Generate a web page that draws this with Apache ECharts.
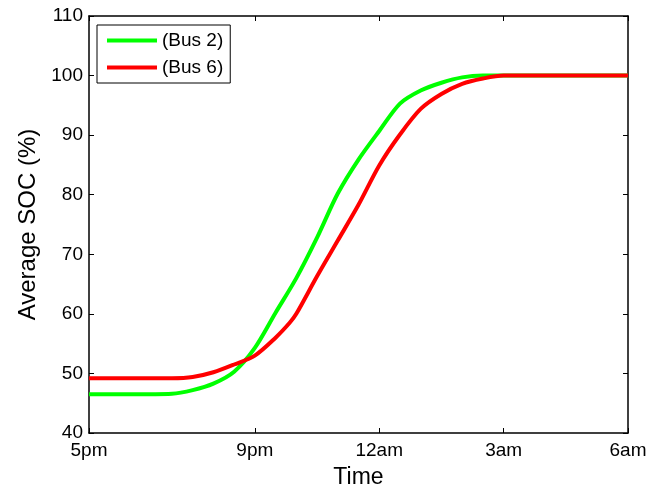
<!DOCTYPE html>
<html>
<head>
<meta charset="utf-8">
<script src="https://cdn.jsdelivr.net/npm/echarts@6/dist/echarts.min.js"></script>
<style>
  html, body { margin: 0; padding: 0; background: #fff; overflow: hidden; }
  #chart { width: 667px; height: 494px; }
</style>
</head>
<body>
<div id="chart"></div>
<script>
// Hours elapsed since 5pm, with average state of charge (%) per bus
const hoursBus2 = [0, 1, 2, 2.5, 3, 3.5, 4, 4.5, 5, 5.5, 6, 6.5, 7, 7.5, 8, 8.5, 9, 9.5, 10, 11, 12, 13];
const socBus2 = [46.5, 46.5, 46.6, 47.2, 48.3, 50.3, 54.3, 60.2, 66.0, 72.8, 80.2, 85.9, 90.7, 95.3, 97.5, 98.8, 99.7, 100, 100, 100, 100, 100];

const hoursBus6 = [0, 1, 2, 2.5, 3, 3.5, 4, 4.5, 4.84, 5, 5.5, 6, 6.5, 7, 7.5, 8, 8.5, 9, 9.5, 10, 11, 12, 13];
const socBus6 = [49.2, 49.2, 49.2, 49.4, 50.2, 51.5, 53.0, 56.0, 58.5, 60.0, 66.3, 72.3, 78.3, 84.9, 90.1, 94.4, 96.9, 98.6, 99.5, 100, 100, 100, 100];

// Time axis ticks (hours since 5pm) and their labels
const timeTicks = [0, 4, 7, 10, 13];
const timeLabels = ['5pm', '9pm', '12am', '3am', '6am'];

const seriesNames = ['(Bus 2)', '(Bus 6)'];
const seriesColors = ['#00ff00', '#ff0000'];

const toPairs = (xs, ys) => xs.map((x, i) => [x, ys[i]]);

const font = 'Liberation Sans, Arial, sans-serif';
const axisLine = { show: true, onZero: false, lineStyle: { color: '#000', width: 1.5 } };

const chart = echarts.init(document.getElementById('chart'), null, { renderer: 'canvas', width: 667, height: 494 });
chart.setOption({
  animation: false,
  backgroundColor: '#fff',
  grid: { left: 89, right: 39, top: 16, bottom: 56, containLabel: false },
  legend: {
    orient: 'vertical',
    left: 97,
    top: 25,
    data: seriesNames,
    icon: 'rect',
    itemWidth: 50,
    itemHeight: 4,
    itemGap: 8,
    padding: [6, 7, 6, 10],
    borderColor: '#000',
    borderWidth: 1,
    backgroundColor: '#fff',
    textStyle: { fontFamily: font, fontSize: 19, color: '#000' }
  },
  xAxis: [
    {
      type: 'value', min: 0, max: 13, position: 'bottom',
      axisLine,
      splitLine: { show: false },
      axisTick: { inside: true, length: 5, customValues: timeTicks, lineStyle: { color: '#000', width: 1 } },
      axisLabel: {
        customValues: timeTicks,
        formatter: v => timeLabels[timeTicks.indexOf(v)],
        fontFamily: font, fontSize: 19, color: '#000', margin: 8
      },
      name: 'Time', nameLocation: 'middle', nameGap: 33,
      nameTextStyle: { fontFamily: font, fontSize: 23, color: '#000' }
    },
    {
      type: 'value', min: 0, max: 13, position: 'top',
      axisLine,
      splitLine: { show: false },
      axisTick: { inside: true, length: 5, customValues: timeTicks, lineStyle: { color: '#000', width: 1 } },
      axisLabel: { show: false }
    }
  ],
  yAxis: [
    {
      type: 'value', min: 40, max: 110, interval: 10, position: 'left',
      axisLine,
      splitLine: { show: false },
      axisTick: { inside: true, length: 5, lineStyle: { color: '#000', width: 1 } },
      axisLabel: { fontFamily: font, fontSize: 19, color: '#000', margin: 6 },
      name: 'Average SOC (%)', nameLocation: 'middle', nameGap: 45, nameRotate: 90,
      nameTextStyle: { fontFamily: font, fontSize: 24, color: '#000' }
    },
    {
      type: 'value', min: 40, max: 110, interval: 10, position: 'right',
      axisLine,
      splitLine: { show: false },
      axisTick: { inside: true, length: 5, lineStyle: { color: '#000', width: 1 } },
      axisLabel: { show: false }
    }
  ],
  series: [
    {
      name: seriesNames[0], type: 'line', xAxisIndex: 0, yAxisIndex: 0,
      data: toPairs(hoursBus2, socBus2),
      showSymbol: false, smooth: 0.3,
      lineStyle: { color: seriesColors[0], width: 4 },
      itemStyle: { color: seriesColors[0] }
    },
    {
      name: seriesNames[1], type: 'line', xAxisIndex: 0, yAxisIndex: 0,
      data: toPairs(hoursBus6, socBus6),
      showSymbol: false, smooth: 0.3,
      lineStyle: { color: seriesColors[1], width: 4 },
      itemStyle: { color: seriesColors[1] },
      z: 3
    }
  ]
});
</script>
</body>
</html>
